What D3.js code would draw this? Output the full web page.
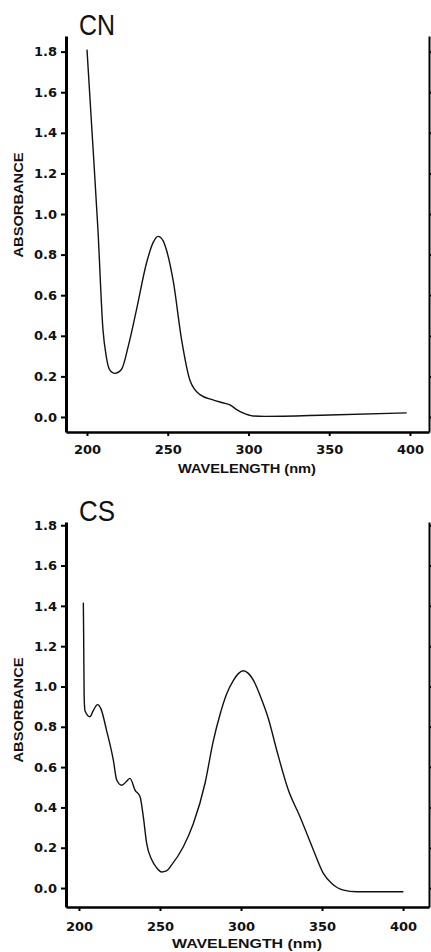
<!DOCTYPE html>
<html lang="en">
<head>
<meta charset="utf-8">
<script src="https://d3js.org/d3.v7.min.js"></script>
<style>
  body { margin: 0; background: #fff; }
  .tick text { font-family: "DejaVu Sans", sans-serif; font-weight: bold; font-size: 13px; fill: #111; }
  .label { font-family: "Liberation Sans", Arial, sans-serif; font-weight: bold; font-size: 13px; fill: #111; }
  .title { font-family: "Liberation Sans", Arial, sans-serif; font-size: 30px; fill: #111; }
</style>
</head>
<body>
<svg width="431" height="952"></svg>
<script>
// spectra
var cnWavelength = [200, 203, 206.8, 209.9, 211.9, 213.9, 217.3, 221.4, 225.6, 230.7, 236.9, 241, 244, 247, 249.3, 253.4, 258.6, 263.8, 270, 278, 284, 288.5, 293, 296.6, 302.8, 310, 350, 398];
var cnAbsorbance = [1.81, 1.42, 0.92, 0.43, 0.30, 0.235, 0.215, 0.235, 0.35, 0.53, 0.76, 0.86, 0.89, 0.87, 0.82, 0.67, 0.38, 0.18, 0.11, 0.084, 0.07, 0.06, 0.035, 0.02, 0.005, 0.003, 0.01, 0.02];

var csWavelength = [202.7, 202.9, 203.2, 203.7, 206.8, 208.8, 211.5, 213.5, 217.1, 221.2, 223.3, 226.4, 229.4, 231.5, 234.6, 237.7, 239.7, 241.8, 244.9, 248, 251, 254, 257.2, 264.4, 270.6, 277.8, 282.9, 287, 291, 295.3, 298.5, 301.4, 304.5, 308.6, 312, 316.9, 322, 329.2, 336.4, 344.6, 350.8, 356, 363.2, 371.4, 385, 400.2];
var csAbsorbance = [1.416, 1.25, 0.95, 0.88, 0.85, 0.88, 0.91, 0.89, 0.78, 0.635, 0.536, 0.51, 0.53, 0.544, 0.486, 0.453, 0.354, 0.22, 0.14, 0.1, 0.08, 0.085, 0.115, 0.205, 0.32, 0.52, 0.73, 0.86, 0.96, 1.03, 1.065, 1.078, 1.065, 1.016, 0.95, 0.84, 0.685, 0.486, 0.354, 0.19, 0.073, 0.023, -0.01, -0.018, -0.018, -0.018];

var xTicks = [200, 250, 300, 350, 400];
var yTicks = [0, 0.2, 0.4, 0.6, 0.8, 1.0, 1.2, 1.4, 1.6, 1.8];

var svg = d3.select("svg");

var panels = [
  { name: "CN", wl: cnWavelength, ab: cnAbsorbance,
    left: 66, right: 429, top: 36, bottom: 432,
    xDom: [187, 411.8], yDom: [-0.074, 1.877], xPad: 9,
    yLabel: 205, xLabel: 473, xLabelLen: 138 },
  { name: "CS", wl: csWavelength, ab: csAbsorbance,
    left: 66, right: 429, top: 522, bottom: 907,
    xDom: [192, 416], yDom: [-0.094, 1.816], xPad: 11,
    yLabel: 710, xLabel: 948, xLabelLen: 150 }
];

panels.forEach(function (p) {
  var x = d3.scaleLinear().domain(p.xDom).range([p.left, p.right]);
  var y = d3.scaleLinear().domain(p.yDom).range([p.bottom, p.top]);

  // left axis
  var gl = svg.append("g")
    .attr("transform", "translate(" + p.left + ",0)")
    .call(d3.axisLeft(y).tickValues(yTicks).tickFormat(d3.format(".1f"))
      .tickSize(5).tickSizeOuter(0).tickPadding(4));
  gl.select(".domain").attr("stroke-width", 3);
  gl.selectAll(".tick line").attr("stroke-width", 2);

  // right axis, ticks only
  var gr = svg.append("g")
    .attr("transform", "translate(" + p.right + ",0)")
    .call(d3.axisRight(y).tickValues(yTicks).tickFormat("").tickSize(3).tickSizeOuter(0));
  gr.select(".domain").attr("stroke-width", 2);
  gr.selectAll(".tick line").attr("stroke-width", 2);

  // bottom axis
  var gb = svg.append("g")
    .attr("transform", "translate(0," + p.bottom + ")")
    .call(d3.axisBottom(x).tickValues(xTicks).tickFormat(d3.format("d"))
      .tickSize(4).tickSizeOuter(0).tickPadding(p.xPad));
  gb.select(".domain").attr("stroke-width", 2.5);
  gb.selectAll(".tick line").attr("stroke-width", 2);

  // spectrum
  var line = d3.line()
    .x(function (d, i) { return x(p.wl[i]); })
    .y(function (d) { return y(d); })
    .curve(d3.curveMonotoneX);
  svg.append("path")
    .datum(p.ab)
    .attr("fill", "none")
    .attr("stroke", "#111")
    .attr("stroke-width", 1.4)
    .attr("d", line);

  // labels
  svg.append("text")
    .attr("class", "title")
    .attr("x", 79)
    .attr("y", p.top - 1)
    .attr("textLength", 36)
    .attr("lengthAdjust", "spacingAndGlyphs")
    .text(p.name);

  svg.append("text")
    .attr("class", "label")
    .attr("transform", "translate(23," + p.yLabel + ") rotate(-90)")
    .attr("text-anchor", "middle")
    .attr("textLength", 105)
    .attr("lengthAdjust", "spacingAndGlyphs")
    .text("ABSORBANCE");

  svg.append("text")
    .attr("class", "label")
    .attr("x", 247)
    .attr("y", p.xLabel)
    .attr("text-anchor", "middle")
    .attr("textLength", p.xLabelLen)
    .attr("lengthAdjust", "spacingAndGlyphs")
    .text("WAVELENGTH (nm)");
});
</script>
</body>
</html>
